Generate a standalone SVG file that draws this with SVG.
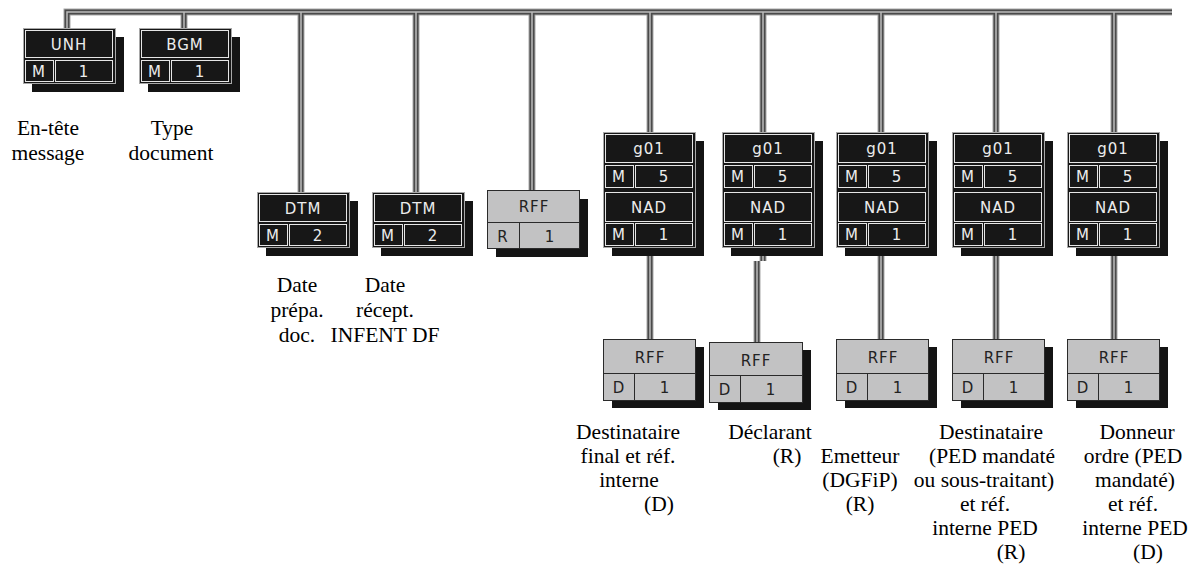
<svg xmlns="http://www.w3.org/2000/svg" width="1199" height="583" viewBox="0 0 1199 583">
<defs>
<style>
.bg{fill:#ffffff}
.sh{fill:#141414}
.bk{fill:#171717;stroke:#a8a8a8;stroke-width:1}
.cl{fill:none;stroke:#e6e6e6;stroke-width:1}
.gy{fill:#c2c2c3;stroke:#2a2a2a;stroke-width:1}
.gl{fill:none;stroke:#2a2a2a;stroke-width:1}
.w1{fill:none;stroke:#a8a8a8;stroke-width:7}
.w2{fill:none;stroke:#4a4a4a;stroke-width:5}
.w3{fill:none;stroke:#bcbcbc;stroke-width:1.5}
.tw{font-family:"DejaVu Sans","Liberation Sans",sans-serif;font-size:15px;fill:#ececec;text-anchor:middle;letter-spacing:1px}
.tg{font-family:"DejaVu Sans","Liberation Sans",sans-serif;font-size:15px;fill:#222222;text-anchor:middle;letter-spacing:1px}
.lb{font-family:"Liberation Serif","Times New Roman",serif;font-size:21.5px;fill:#000000;text-anchor:middle}
</style>
</defs>
<rect class="bg" x="0" y="0" width="1199" height="583"/>

<g id="connectors">
<path class="w1" d="M67,31 V12 H1172 M184,12 V31 M301,12 V195 M416,12 V195 M532,12 V193 M650,12 V135 M763,12 V135 M881,12 V135 M996,12 V135 M1114,12 V135 M650,247 V342 M881,247 V342 M996,247 V342 M1114,247 V342 M763,247 V261 M757,261 V345"/>
<path class="w2" d="M67,31 V12 H1172 M184,12 V31 M301,12 V195 M416,12 V195 M532,12 V193 M650,12 V135 M763,12 V135 M881,12 V135 M996,12 V135 M1114,12 V135 M650,247 V342 M881,247 V342 M996,247 V342 M1114,247 V342 M763,247 V261 M757,261 V345"/>
<path class="w3" d="M67,31 V12 H1172 M184,12 V31 M301,12 V195 M416,12 V195 M532,12 V193 M650,12 V135 M763,12 V135 M881,12 V135 M996,12 V135 M1114,12 V135 M650,247 V342 M881,247 V342 M996,247 V342 M1114,247 V342 M763,247 V261 M757,261 V345"/>
</g>

<g id="UNH">
<rect class="sh" x="32" y="37" width="92" height="55"/>
<rect class="bk" x="23.5" y="28.5" width="92" height="55"/>
<rect class="cl" x="25.5" y="30.5" width="87" height="27"/>
<rect class="cl" x="25.5" y="60.5" width="28" height="21"/>
<rect class="cl" x="55.5" y="60.5" width="57" height="21"/>
<text class="tw" x="69" y="50">UNH</text>
<text class="tw" x="39" y="77">M</text>
<text class="tw" x="84" y="77">1</text>
</g>

<g id="BGM">
<rect class="sh" x="148" y="37" width="92" height="55"/>
<rect class="bk" x="139.5" y="28.5" width="92" height="55"/>
<rect class="cl" x="141.5" y="30.5" width="87" height="27"/>
<rect class="cl" x="141.5" y="60.5" width="28" height="21"/>
<rect class="cl" x="171.5" y="60.5" width="57" height="21"/>
<text class="tw" x="185" y="50">BGM</text>
<text class="tw" x="155" y="77">M</text>
<text class="tw" x="200" y="77">1</text>
</g>

<g id="DTM1">
<rect class="sh" x="266" y="201" width="92" height="55"/>
<rect class="bk" x="257.5" y="192.5" width="92" height="55"/>
<rect class="cl" x="259.5" y="194.5" width="87" height="27"/>
<rect class="cl" x="259.5" y="224.5" width="28" height="21"/>
<rect class="cl" x="289.5" y="224.5" width="57" height="21"/>
<text class="tw" x="303" y="214">DTM</text>
<text class="tw" x="273" y="241">M</text>
<text class="tw" x="318" y="241">2</text>
</g>

<g id="DTM2">
<rect class="sh" x="381" y="201" width="92" height="55"/>
<rect class="bk" x="372.5" y="192.5" width="92" height="55"/>
<rect class="cl" x="374.5" y="194.5" width="87" height="27"/>
<rect class="cl" x="374.5" y="224.5" width="28" height="21"/>
<rect class="cl" x="404.5" y="224.5" width="57" height="21"/>
<text class="tw" x="418" y="214">DTM</text>
<text class="tw" x="388" y="241">M</text>
<text class="tw" x="433" y="241">2</text>
</g>

<g id="RFF-R">
<rect class="sh" x="496" y="199" width="92" height="58"/>
<rect class="gy" x="487.5" y="190.5" width="92" height="58"/>
<path class="gl" d="M487.5,222.5 H579.5 M519.5,222.5 V248.5"/>
<text class="tg" x="534" y="212">RFF</text>
<text class="tg" x="503" y="242">R</text>
<text class="tg" x="550" y="242">1</text>
</g>

<g id="g01-1">
<rect class="sh" x="612" y="141" width="92" height="115"/>
<rect class="bk" x="603.5" y="132.5" width="92" height="115"/>
<rect class="cl" x="605.5" y="134.5" width="87" height="28"/>
<rect class="cl" x="605.5" y="165.5" width="28" height="22"/>
<rect class="cl" x="635.5" y="165.5" width="57" height="22"/>
<rect class="cl" x="605.5" y="192.5" width="87" height="29"/>
<rect class="cl" x="605.5" y="223.5" width="28" height="22"/>
<rect class="cl" x="635.5" y="223.5" width="57" height="22"/>
<text class="tw" x="649" y="154">g01</text>
<text class="tw" x="619" y="182">M</text>
<text class="tw" x="664" y="182">5</text>
<text class="tw" x="649" y="213">NAD</text>
<text class="tw" x="619" y="240">M</text>
<text class="tw" x="664" y="240">1</text>
</g>

<g id="g01-2">
<rect class="sh" x="731" y="141" width="92" height="115"/>
<rect class="bk" x="722.5" y="132.5" width="92" height="115"/>
<rect class="cl" x="724.5" y="134.5" width="87" height="28"/>
<rect class="cl" x="724.5" y="165.5" width="28" height="22"/>
<rect class="cl" x="754.5" y="165.5" width="57" height="22"/>
<rect class="cl" x="724.5" y="192.5" width="87" height="29"/>
<rect class="cl" x="724.5" y="223.5" width="28" height="22"/>
<rect class="cl" x="754.5" y="223.5" width="57" height="22"/>
<text class="tw" x="768" y="154">g01</text>
<text class="tw" x="738" y="182">M</text>
<text class="tw" x="783" y="182">5</text>
<text class="tw" x="768" y="213">NAD</text>
<text class="tw" x="738" y="240">M</text>
<text class="tw" x="783" y="240">1</text>
</g>

<g id="g01-3">
<rect class="sh" x="845" y="141" width="92" height="115"/>
<rect class="bk" x="836.5" y="132.5" width="92" height="115"/>
<rect class="cl" x="838.5" y="134.5" width="87" height="28"/>
<rect class="cl" x="838.5" y="165.5" width="28" height="22"/>
<rect class="cl" x="868.5" y="165.5" width="57" height="22"/>
<rect class="cl" x="838.5" y="192.5" width="87" height="29"/>
<rect class="cl" x="838.5" y="223.5" width="28" height="22"/>
<rect class="cl" x="868.5" y="223.5" width="57" height="22"/>
<text class="tw" x="882" y="154">g01</text>
<text class="tw" x="852" y="182">M</text>
<text class="tw" x="897" y="182">5</text>
<text class="tw" x="882" y="213">NAD</text>
<text class="tw" x="852" y="240">M</text>
<text class="tw" x="897" y="240">1</text>
</g>

<g id="g01-4">
<rect class="sh" x="961" y="141" width="92" height="115"/>
<rect class="bk" x="952.5" y="132.5" width="92" height="115"/>
<rect class="cl" x="954.5" y="134.5" width="87" height="28"/>
<rect class="cl" x="954.5" y="165.5" width="28" height="22"/>
<rect class="cl" x="984.5" y="165.5" width="57" height="22"/>
<rect class="cl" x="954.5" y="192.5" width="87" height="29"/>
<rect class="cl" x="954.5" y="223.5" width="28" height="22"/>
<rect class="cl" x="984.5" y="223.5" width="57" height="22"/>
<text class="tw" x="998" y="154">g01</text>
<text class="tw" x="968" y="182">M</text>
<text class="tw" x="1013" y="182">5</text>
<text class="tw" x="998" y="213">NAD</text>
<text class="tw" x="968" y="240">M</text>
<text class="tw" x="1013" y="240">1</text>
</g>

<g id="g01-5">
<rect class="sh" x="1076" y="141" width="92" height="115"/>
<rect class="bk" x="1067.5" y="132.5" width="92" height="115"/>
<rect class="cl" x="1069.5" y="134.5" width="87" height="28"/>
<rect class="cl" x="1069.5" y="165.5" width="28" height="22"/>
<rect class="cl" x="1099.5" y="165.5" width="57" height="22"/>
<rect class="cl" x="1069.5" y="192.5" width="87" height="29"/>
<rect class="cl" x="1069.5" y="223.5" width="28" height="22"/>
<rect class="cl" x="1099.5" y="223.5" width="57" height="22"/>
<text class="tw" x="1113" y="154">g01</text>
<text class="tw" x="1083" y="182">M</text>
<text class="tw" x="1128" y="182">5</text>
<text class="tw" x="1113" y="213">NAD</text>
<text class="tw" x="1083" y="240">M</text>
<text class="tw" x="1128" y="240">1</text>
</g>

<g id="RFF-D1">
<rect class="sh" x="612" y="347" width="92" height="61"/>
<rect class="gy" x="603.5" y="339.5" width="92" height="61"/>
<path class="gl" d="M603.5,373.5 H695.5 M634.5,373.5 V400.5"/>
<text class="tg" x="650" y="363">RFF</text>
<text class="tg" x="619" y="393">D</text>
<text class="tg" x="665" y="393">1</text>
</g>

<g id="RFF-D2">
<rect class="sh" x="718" y="350" width="93" height="60"/>
<rect class="gy" x="709.5" y="342.5" width="93" height="60"/>
<path class="gl" d="M709.5,375.5 H802.5 M740.5,375.5 V402.5"/>
<text class="tg" x="756" y="366">RFF</text>
<text class="tg" x="725" y="395">D</text>
<text class="tg" x="771" y="395">1</text>
</g>

<g id="RFF-D3">
<rect class="sh" x="845" y="347" width="92" height="61"/>
<rect class="gy" x="836.5" y="339.5" width="92" height="61"/>
<path class="gl" d="M836.5,373.5 H928.5 M867.5,373.5 V400.5"/>
<text class="tg" x="883" y="363">RFF</text>
<text class="tg" x="852" y="393">D</text>
<text class="tg" x="898" y="393">1</text>
</g>

<g id="RFF-D4">
<rect class="sh" x="961" y="347" width="92" height="61"/>
<rect class="gy" x="952.5" y="339.5" width="92" height="61"/>
<path class="gl" d="M952.5,373.5 H1044.5 M983.5,373.5 V400.5"/>
<text class="tg" x="999" y="363">RFF</text>
<text class="tg" x="968" y="393">D</text>
<text class="tg" x="1014" y="393">1</text>
</g>

<g id="RFF-D5">
<rect class="sh" x="1076" y="347" width="92" height="61"/>
<rect class="gy" x="1067.5" y="339.5" width="92" height="61"/>
<path class="gl" d="M1067.5,373.5 H1159.5 M1098.5,373.5 V400.5"/>
<text class="tg" x="1114" y="363">RFF</text>
<text class="tg" x="1083" y="393">D</text>
<text class="tg" x="1129" y="393">1</text>
</g>

<g id="labels">
<text class="lb" x="48" y="135">En-tête</text>
<text class="lb" x="48" y="160">message</text>
<text class="lb" x="172" y="135">Type</text>
<text class="lb" x="171" y="160">document</text>
<text class="lb" x="297" y="292">Date</text>
<text class="lb" x="297" y="317">prépa.</text>
<text class="lb" x="297" y="342">doc.</text>
<text class="lb" x="385" y="292">Date</text>
<text class="lb" x="385" y="317">récept.</text>
<text class="lb" x="385" y="342">INFENT DF</text>
<text class="lb" x="628" y="439">Destinataire</text>
<text class="lb" x="628" y="463">final et réf.</text>
<text class="lb" x="629" y="487">interne</text>
<text class="lb" x="659" y="511">(D)</text>
<text class="lb" x="770" y="439">Déclarant</text>
<text class="lb" x="787" y="463">(R)</text>
<text class="lb" x="860" y="463">Emetteur</text>
<text class="lb" x="860" y="487">(DGFiP)</text>
<text class="lb" x="860" y="511">(R)</text>
<text class="lb" x="991" y="439">Destinataire</text>
<text class="lb" x="992" y="463">(PED mandaté</text>
<text class="lb" x="984" y="487">ou sous-traitant)</text>
<text class="lb" x="985" y="511">et réf.</text>
<text class="lb" x="985" y="535">interne PED</text>
<text class="lb" x="1011" y="559">(R)</text>
<text class="lb" x="1137" y="439">Donneur</text>
<text class="lb" x="1133" y="463">ordre (PED</text>
<text class="lb" x="1135" y="487">mandaté)</text>
<text class="lb" x="1133" y="511">et réf.</text>
<text class="lb" x="1135" y="535">interne PED</text>
<text class="lb" x="1148" y="559">(D)</text>
</g>
</svg>
